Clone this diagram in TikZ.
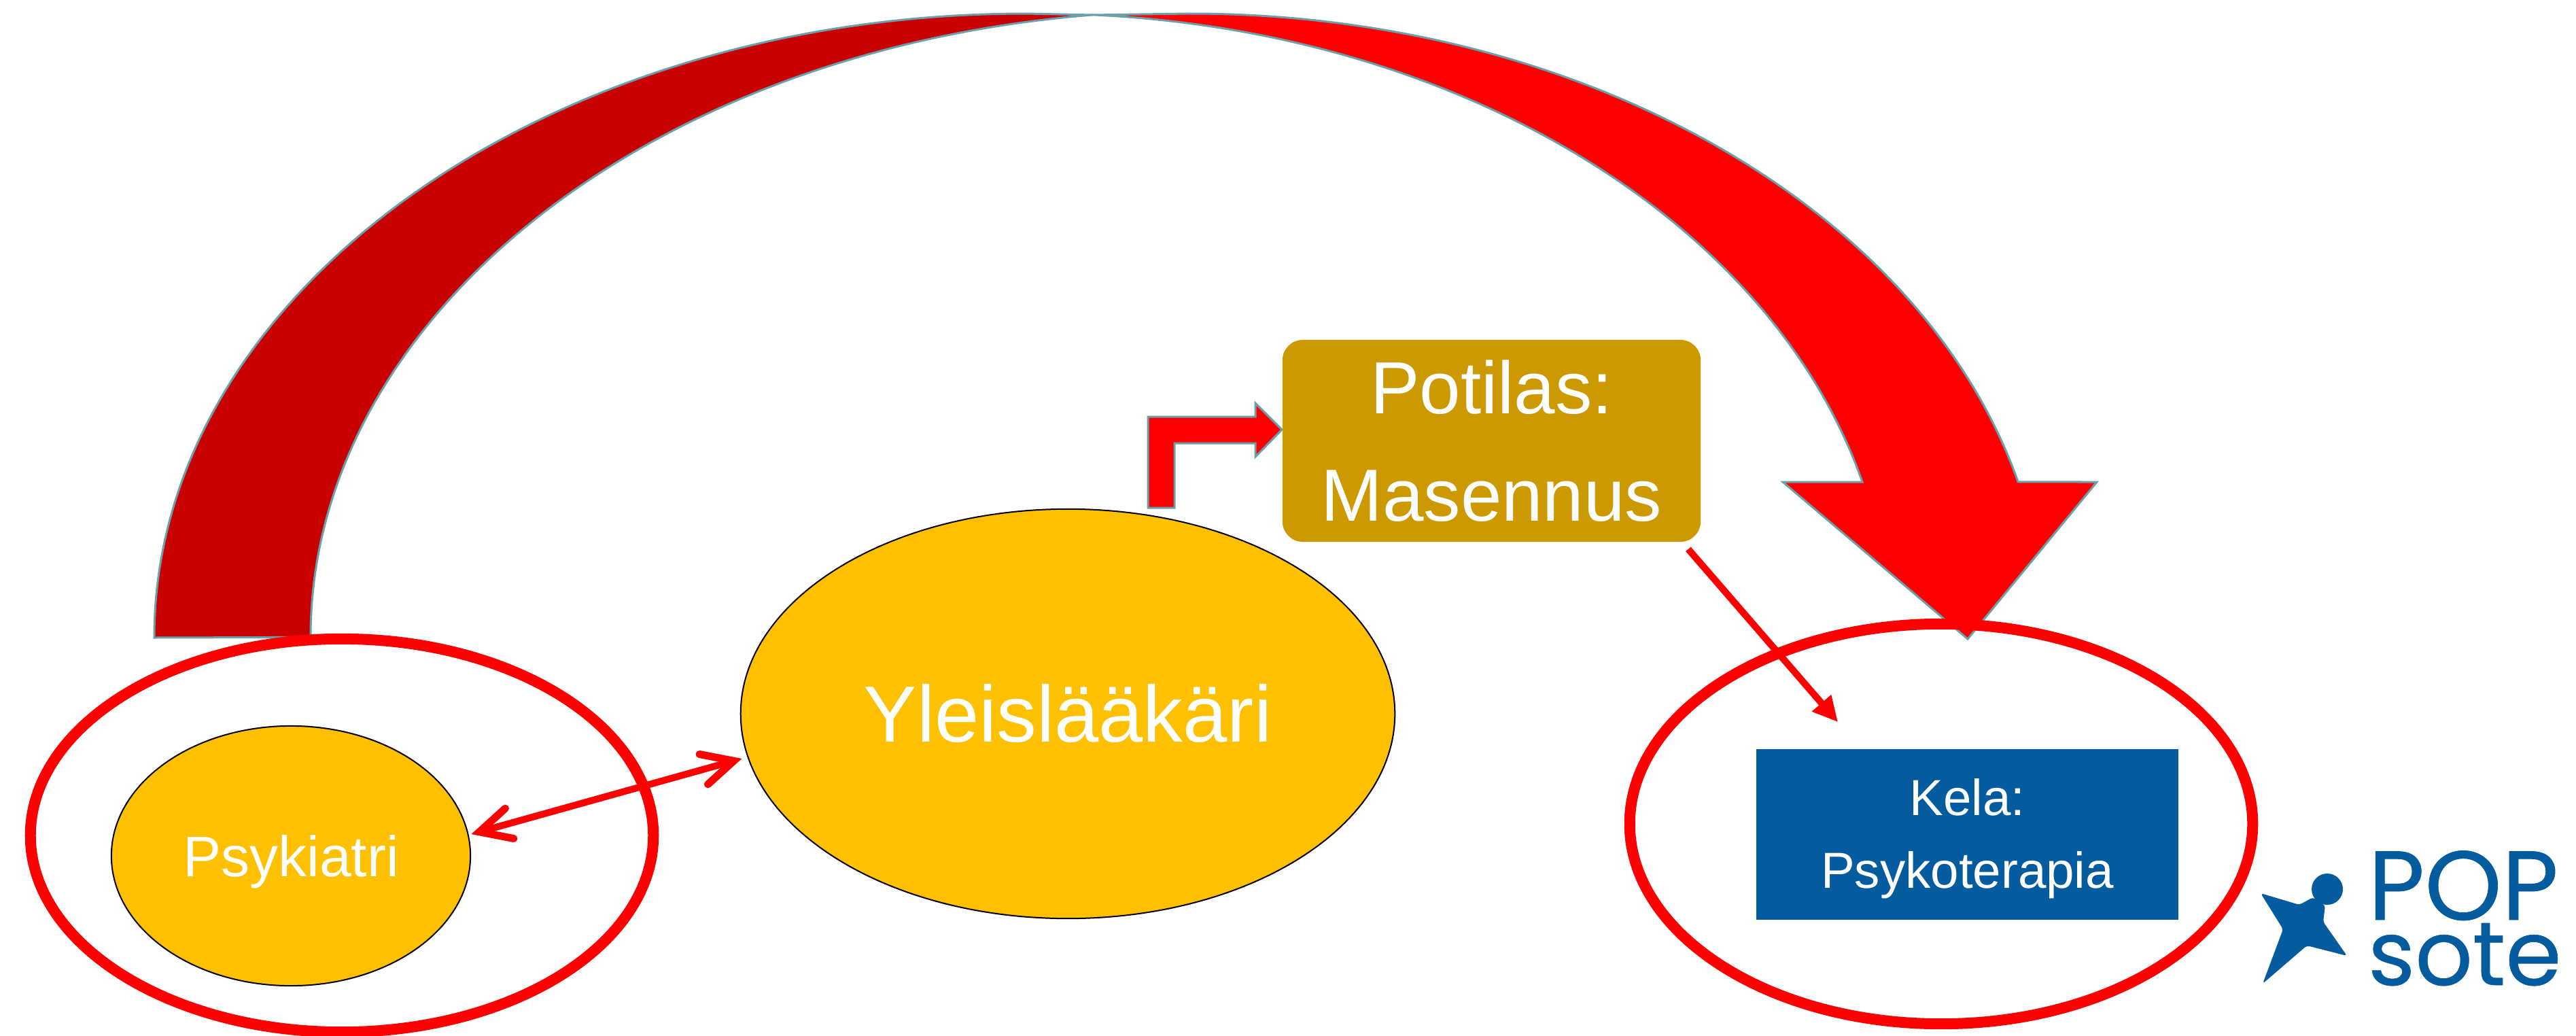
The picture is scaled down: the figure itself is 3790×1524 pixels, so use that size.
\documentclass[tikz,border=0pt]{standalone}
\usepackage{fontspec}
\usepackage{xcolor}
\usetikzlibrary{shapes,arrows,arrows.meta}
\setmainfont{Liberation Sans}
\newfontfamily\logofont{Poppins}[FakeBold=0.5]
\definecolor{kulta}{HTML}{FFC000}
\definecolor{okra}{HTML}{CC9900}
\definecolor{tummapuna}{HTML}{C80000}
\definecolor{reuna}{HTML}{6B9FAB}
\definecolor{popsini}{HTML}{045C9E}

\begin{document}
\begin{tikzpicture}[x=0.01cm, y=-0.01cm]
\tikzstyle{kaari} = [draw = reuna, line width = 0.3mm, line join = miter]
\tikzstyle{rengas} = [ellipse, draw = red, line width = 1.6mm, inner sep = 0pt, outer sep = 0pt]
\tikzstyle{soikio} = [ellipse, draw = black, line width = 0.2mm, fill = kulta, text = white, inner sep = 0pt, outer sep = 0pt]
\tikzstyle{ohut} = [draw = red, line width = 1mm]
\tikzstyle{logoteksti} = [text = popsini, inner sep = 0pt, outer sep = 0pt]
\useasboundingbox (0,0) rectangle (3790,1524);
\draw[kaari, fill = tummapuna] (227,938)
	arc[start angle = 180, end angle = 270, x radius = 1283, y radius = 918]
	-- (1607,22)
	arc[start angle = 263.65, end angle = 180, x radius = 1293, y radius = 921]
	-- cycle;
\draw[kaari, fill = red] (1607,22) -- (1750,20)
	arc[start angle = 270, end angle = 345.55, x radius = 1259, y radius = 918]
	-- (3085,709) -- (2895,940) -- (2623,709) -- (2740,709)
	arc[start angle = 345.55, end angle = 273.5, x radius = 1250, y radius = 918]
	-- cycle;
\draw[kaari, fill = red] (1689,747) -- (1689,613) -- (1847,613) -- (1847,593) -- (1886,632)
	-- (1847,672) -- (1847,652) -- (1728,652) -- (1728,747) -- cycle;
\node[rengas, minimum width = 9.16cm, minimum height = 5.78cm] (psykiatrirengas) at (503,1229) {};
\node[rengas, minimum width = 9.16cm, minimum height = 5.88cm] (kelarengas) at (2856,1212) {};
\node[soikio, minimum width = 5.28cm, minimum height = 3.82cm, text depth = 0pt, font = \fontsize{23.9}{28}\selectfont] (psykiatri) at (428,1259) {Psykiatri};
\node[soikio, minimum width = 9.62cm, minimum height = 6.02cm, font = \fontsize{33.4}{40}\selectfont] (yleislaakari) at (1571,1050) {Yleisl\"a\"ak\"ari};
\node[rectangle, fill = okra, rounded corners = 0.3cm, minimum width = 6.15cm, minimum height = 2.97cm, text = white, align = center, font = \fontsize{30.9}{45}\selectfont] (potilas) at (2194.5,648.5) {Potilas:\\Masennus};
\node[rectangle, fill = popsini, minimum width = 6.21cm, minimum height = 2.51cm, text = white, align = center, font = \fontsize{21.2}{30.3}\selectfont] (kela) at (2894.5,1227.5) {\rule{0pt}{18.8pt}Kela:\\Psykoterapia};
\draw[ohut, -{Triangle[length = 3.7mm, width = 3.5mm]}] ([shift = {(-19,10)}]potilas.south east) -- ([shift = {(121,-39)}]kela.north west);
\draw[ohut, {Straight Barb[length = 4.6mm, width = 4.6mm, line width = 1.1mm, line cap = round]}-{Straight Barb[length = 4.6mm, width = 4.6mm, line width = 1.1mm, line cap = round]}] ([xshift = 0.05cm]psykiatri.7) -- ([xshift = -0.1cm]yleislaakari.188);
\fill[popsini, rounded corners = 0.04cm] (3326,1314) -- (3383,1331) -- (3403,1320) -- (3421,1332) -- (3418,1356)
	-- (3453,1406) -- (3394,1391) -- (3329,1447) -- (3359,1367) -- cycle;
\fill[popsini] (3424,1308) circle[radius = 23];
\node[logoteksti, anchor = base west, font = \logofont\fontsize{41}{41}\selectfont] (pop) at (3484,1353) {POP};
\node[logoteksti, anchor = base west, font = \logofont\fontsize{37.7}{38}\selectfont] (sote) at (3484,1449) {sote};
\end{tikzpicture}
\end{document}
